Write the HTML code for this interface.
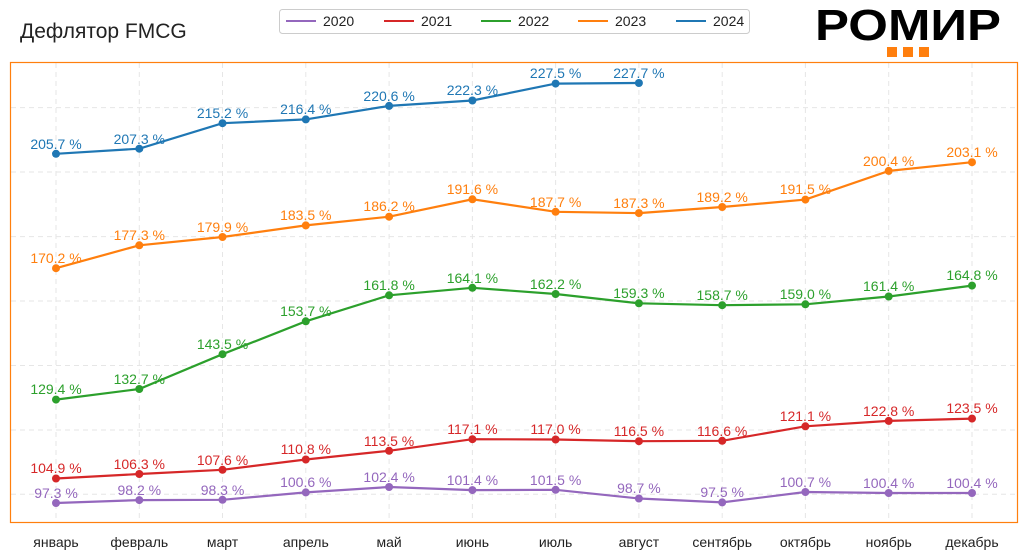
<!DOCTYPE html>
<html><head><meta charset="utf-8"><style>
html,body{margin:0;padding:0;background:#fff;}
svg{display:block;font-family:"Liberation Sans",sans-serif;}
.l text{font-size:14px;text-anchor:middle;}
</style></head><body>
<svg width="1027" height="558" viewBox="0 0 1027 558" xmlns="http://www.w3.org/2000/svg">
<text x="20" y="38" font-size="21" fill="#222">Дефлятор FMCG</text>
<rect x="279.5" y="9.5" width="470" height="24" rx="3" fill="#fff" stroke="#ccc"/>
<g font-size="14" fill="#222">
<line x1="286" y1="21" x2="316" y2="21" stroke="#9467bd" stroke-width="2"/><text x="323" y="26">2020</text>
<line x1="384" y1="21" x2="414" y2="21" stroke="#d62728" stroke-width="2"/><text x="421" y="26">2021</text>
<line x1="481" y1="21" x2="511" y2="21" stroke="#2ca02c" stroke-width="2"/><text x="518" y="26">2022</text>
<line x1="578" y1="21" x2="608" y2="21" stroke="#ff7f0e" stroke-width="2"/><text x="615" y="26">2023</text>
<line x1="676" y1="21" x2="706" y2="21" stroke="#1f77b4" stroke-width="2"/><text x="713" y="26">2024</text>
</g>
<text x="908" y="40" font-size="44" font-weight="bold" text-anchor="middle" fill="#000" textLength="186" lengthAdjust="spacingAndGlyphs">РОМИР</text>
<rect x="887" y="47" width="10" height="10" fill="#ff7f0e"/><rect x="903" y="47" width="10" height="10" fill="#ff7f0e"/><rect x="919" y="47" width="10" height="10" fill="#ff7f0e"/>
<g stroke="#e6e6e6" stroke-dasharray="5,4" stroke-width="1">
<line x1="11" y1="494.3" x2="1017" y2="494.3"/><line x1="11" y1="430" x2="1017" y2="430"/><line x1="11" y1="365.5" x2="1017" y2="365.5"/><line x1="11" y1="301" x2="1017" y2="301"/><line x1="11" y1="236.6" x2="1017" y2="236.6"/><line x1="11" y1="172" x2="1017" y2="172"/><line x1="11" y1="107.6" x2="1017" y2="107.6"/>
<line x1="56" y1="63" x2="56" y2="522"/><line x1="139.3" y1="63" x2="139.3" y2="522"/><line x1="222.5" y1="63" x2="222.5" y2="522"/><line x1="305.8" y1="63" x2="305.8" y2="522"/><line x1="389.1" y1="63" x2="389.1" y2="522"/><line x1="472.4" y1="63" x2="472.4" y2="522"/><line x1="555.6" y1="63" x2="555.6" y2="522"/><line x1="638.9" y1="63" x2="638.9" y2="522"/><line x1="722.2" y1="63" x2="722.2" y2="522"/><line x1="805.4" y1="63" x2="805.4" y2="522"/><line x1="888.7" y1="63" x2="888.7" y2="522"/><line x1="972" y1="63" x2="972" y2="522"/>
</g>
<rect x="10.5" y="62.5" width="1007" height="460" fill="none" stroke="#ff7f0e" stroke-width="1.2"/>
<g font-size="14" fill="#222" text-anchor="middle">
<text x="56" y="547">январь</text><text x="139.3" y="547">февраль</text><text x="222.5" y="547">март</text><text x="305.8" y="547">апрель</text><text x="389.1" y="547">май</text><text x="472.4" y="547">июнь</text><text x="555.6" y="547">июль</text><text x="638.9" y="547">август</text><text x="722.2" y="547">сентябрь</text><text x="805.4" y="547">октябрь</text><text x="888.7" y="547">ноябрь</text><text x="972" y="547">декабрь</text>
</g>
<g class="l" fill="#9467bd" stroke="none">
<polyline fill="none" stroke="#9467bd" stroke-width="2.2" points="56,503 139.3,500.1 222.5,499.8 305.8,492.4 389.1,487 472.4,490.1 555.6,489.8 638.9,498.5 722.2,502.4 805.4,492 888.7,493 972,493"/>
<circle cx="56" cy="503" r="4"/><circle cx="139.3" cy="500.1" r="4"/><circle cx="222.5" cy="499.8" r="4"/><circle cx="305.8" cy="492.4" r="4"/><circle cx="389.1" cy="487" r="4"/><circle cx="472.4" cy="490.1" r="4"/><circle cx="555.6" cy="489.8" r="4"/><circle cx="638.9" cy="498.5" r="4"/><circle cx="722.2" cy="502.4" r="4"/><circle cx="805.4" cy="492" r="4"/><circle cx="888.7" cy="493" r="4"/><circle cx="972" cy="493" r="4"/>
<text x="56" y="498">97.3 %</text><text x="139.3" y="495">98.2 %</text><text x="222.5" y="495">98.3 %</text><text x="305.8" y="487">100.6 %</text><text x="389.1" y="482">102.4 %</text><text x="472.4" y="485">101.4 %</text><text x="555.6" y="485">101.5 %</text><text x="638.9" y="493">98.7 %</text><text x="722.2" y="497">97.5 %</text><text x="805.4" y="487">100.7 %</text><text x="888.7" y="488">100.4 %</text><text x="972" y="488">100.4 %</text>
</g>
<g class="l" fill="#d62728">
<polyline fill="none" stroke="#d62728" stroke-width="2.2" points="56,478.5 139.3,474 222.5,469.8 305.8,459.5 389.1,450.8 472.4,439.2 555.6,439.5 638.9,441.2 722.2,440.8 805.4,426.3 888.7,420.9 972,418.6"/>
<circle cx="56" cy="478.5" r="4"/><circle cx="139.3" cy="474" r="4"/><circle cx="222.5" cy="469.8" r="4"/><circle cx="305.8" cy="459.5" r="4"/><circle cx="389.1" cy="450.8" r="4"/><circle cx="472.4" cy="439.2" r="4"/><circle cx="555.6" cy="439.5" r="4"/><circle cx="638.9" cy="441.2" r="4"/><circle cx="722.2" cy="440.8" r="4"/><circle cx="805.4" cy="426.3" r="4"/><circle cx="888.7" cy="420.9" r="4"/><circle cx="972" cy="418.6" r="4"/>
<text x="56" y="473">104.9 %</text><text x="139.3" y="469">106.3 %</text><text x="222.5" y="465">107.6 %</text><text x="305.8" y="454">110.8 %</text><text x="389.1" y="446">113.5 %</text><text x="472.4" y="434">117.1 %</text><text x="555.6" y="434">117.0 %</text><text x="638.9" y="436">116.5 %</text><text x="722.2" y="436">116.6 %</text><text x="805.4" y="421">121.1 %</text><text x="888.7" y="416">122.8 %</text><text x="972" y="413">123.5 %</text>
</g>
<g class="l" fill="#2ca02c">
<polyline fill="none" stroke="#2ca02c" stroke-width="2.2" points="56,399.6 139.3,389 222.5,354.2 305.8,321.3 389.1,295.3 472.4,287.8 555.6,294 638.9,303.3 722.2,305.2 805.4,304.3 888.7,296.5 972,285.6"/>
<circle cx="56" cy="399.6" r="4"/><circle cx="139.3" cy="389" r="4"/><circle cx="222.5" cy="354.2" r="4"/><circle cx="305.8" cy="321.3" r="4"/><circle cx="389.1" cy="295.3" r="4"/><circle cx="472.4" cy="287.8" r="4"/><circle cx="555.6" cy="294" r="4"/><circle cx="638.9" cy="303.3" r="4"/><circle cx="722.2" cy="305.2" r="4"/><circle cx="805.4" cy="304.3" r="4"/><circle cx="888.7" cy="296.5" r="4"/><circle cx="972" cy="285.6" r="4"/>
<text x="56" y="394">129.4 %</text><text x="139.3" y="384">132.7 %</text><text x="222.5" y="349">143.5 %</text><text x="305.8" y="316">153.7 %</text><text x="389.1" y="290">161.8 %</text><text x="472.4" y="283">164.1 %</text><text x="555.6" y="289">162.2 %</text><text x="638.9" y="298">159.3 %</text><text x="722.2" y="300">158.7 %</text><text x="805.4" y="299">159.0 %</text><text x="888.7" y="291">161.4 %</text><text x="972" y="280">164.8 %</text>
</g>
<g class="l" fill="#ff7f0e">
<polyline fill="none" stroke="#ff7f0e" stroke-width="2.2" points="56,268.2 139.3,245.3 222.5,237 305.8,225.4 389.1,216.7 472.4,199.3 555.6,211.8 638.9,213.1 722.2,207 805.4,199.6 888.7,170.9 972,162.2"/>
<circle cx="56" cy="268.2" r="4"/><circle cx="139.3" cy="245.3" r="4"/><circle cx="222.5" cy="237" r="4"/><circle cx="305.8" cy="225.4" r="4"/><circle cx="389.1" cy="216.7" r="4"/><circle cx="472.4" cy="199.3" r="4"/><circle cx="555.6" cy="211.8" r="4"/><circle cx="638.9" cy="213.1" r="4"/><circle cx="722.2" cy="207" r="4"/><circle cx="805.4" cy="199.6" r="4"/><circle cx="888.7" cy="170.9" r="4"/><circle cx="972" cy="162.2" r="4"/>
<text x="56" y="263">170.2 %</text><text x="139.3" y="240">177.3 %</text><text x="222.5" y="232">179.9 %</text><text x="305.8" y="220">183.5 %</text><text x="389.1" y="211">186.2 %</text><text x="472.4" y="194">191.6 %</text><text x="555.6" y="207">187.7 %</text><text x="638.9" y="208">187.3 %</text><text x="722.2" y="202">189.2 %</text><text x="805.4" y="194">191.5 %</text><text x="888.7" y="166">200.4 %</text><text x="972" y="157">203.1 %</text>
</g>
<g class="l" fill="#1f77b4">
<polyline fill="none" stroke="#1f77b4" stroke-width="2.2" points="56,153.8 139.3,148.7 222.5,123.2 305.8,119.4 389.1,105.9 472.4,100.5 555.6,83.6 638.9,83"/>
<circle cx="56" cy="153.8" r="4"/><circle cx="139.3" cy="148.7" r="4"/><circle cx="222.5" cy="123.2" r="4"/><circle cx="305.8" cy="119.4" r="4"/><circle cx="389.1" cy="105.9" r="4"/><circle cx="472.4" cy="100.5" r="4"/><circle cx="555.6" cy="83.6" r="4"/><circle cx="638.9" cy="83" r="4"/>
<text x="56" y="149">205.7 %</text><text x="139.3" y="144">207.3 %</text><text x="222.5" y="118">215.2 %</text><text x="305.8" y="114">216.4 %</text><text x="389.1" y="101">220.6 %</text><text x="472.4" y="95">222.3 %</text><text x="555.6" y="78">227.5 %</text><text x="638.9" y="78">227.7 %</text>
</g>
</svg>
</body></html>
